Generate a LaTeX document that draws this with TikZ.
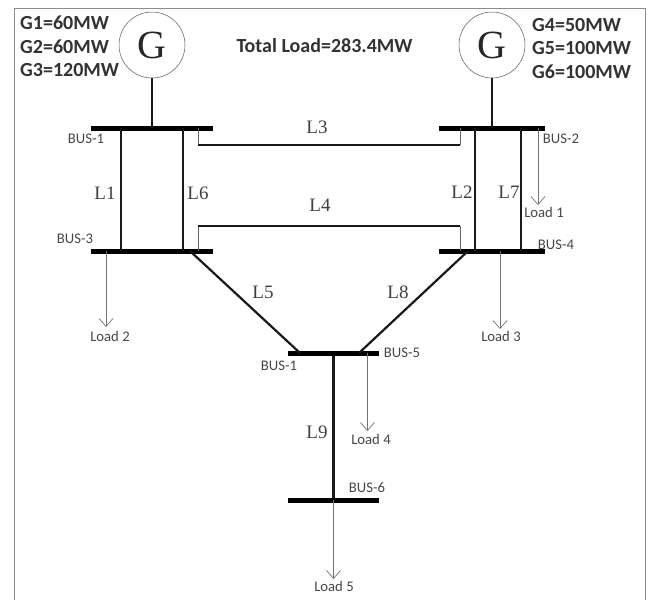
\documentclass[tikz,border=0pt]{standalone}
\usepackage{fontspec}
\setmainfont{Liberation Serif}
\newfontfamily\labelfont{Carlito}
\usetikzlibrary{arrows.meta}
\tikzset{
  x=1pt,y=-1pt,
  busbar/.style={fill=black,inner sep=0pt,minimum height=5pt,draw=none,outer sep=0pt},
  gen/.style={circle,draw=black!65,line width=0.5pt,minimum size=66pt,inner sep=0pt,font=\fontsize{40}{40}\selectfont,text=black!85},
  line/.style={line width=2.2pt,black!90},
  thinline/.style={line width=1.6pt,black!90},
  stub/.style={line width=0.7pt,black!60},
  loadarrow/.style={line width=0.7pt,black!55,-{Straight Barb[length=8pt,width=14pt,line width=0.7pt]}},
  gtext/.style={font=\labelfont\bfseries\fontsize{20}{20}\selectfont,text=black!80,inner sep=0pt},
  bustext/.style={font=\labelfont\fontsize{14.7}{14.7}\selectfont,text=black!72,inner sep=0pt},
  linetext/.style={font=\fontsize{19}{19}\selectfont,text=black!75,inner sep=0pt},
}
\begin{document}
\begin{tikzpicture}
\useasboundingbox (0,0) rectangle (650,600);
\fill[white] (0,0) rectangle (650,600);
\coordinate (fa) at (14,600);
\coordinate (fb) at (14,8);
\coordinate (fc) at (645,8);
\coordinate (fd) at (645,600);
\draw[black!45,line width=0.8pt] (fa) -- (fb) -- (fc) -- (fd);

% generators and buses
\node[gen] (g1) at (152,45) {G};
\node[gen] (g2) at (492,45) {G};
\node[busbar,minimum width=122pt] (b1) at (152,128) {};
\node[busbar,minimum width=106pt] (b2) at (492,128) {};
\node[busbar,minimum width=122pt] (b3) at (152,251) {};
\node[busbar,minimum width=106pt] (b4) at (492,251) {};
\node[busbar,minimum width=91pt] (b5) at (333.5,353) {};
\node[busbar,minimum width=91pt] (b6) at (333.5,500) {};

% tap positions
\coordinate (x1) at (121,0);
\coordinate (x6) at (183,0);
\coordinate (x2) at (475,0);
\coordinate (x7) at (521,0);
\coordinate (xl) at (198,0);
\coordinate (xr) at (460,0);
\coordinate (y3) at (0,145);
\coordinate (y4) at (0,226);
\coordinate (x5a) at (190,0);
\coordinate (x5b) at (300,0);
\coordinate (x8a) at (468,0);
\coordinate (x8b) at (359,0);

\draw[line] (g1) -- (g1 |- b1);
\draw[line] (g2) -- (g2 |- b2);
\draw[line] (b1 -| x1) -- (b3 -| x1);
\draw[line] (b1 -| x6) -- (b3 -| x6);
\draw[line] (b2 -| x2) -- (b4 -| x2);
\draw[line] (b2 -| x7) -- (b4 -| x7);
\draw[line] (b3 -| x5a) -- (b5 -| x5b);
\draw[line] (b4 -| x8a) -- (b5 -| x8b);
\draw[line] (b5) -- (b6);

% L3 and L4 with thin stubs
\draw[stub] (b1 -| xl) -- (y3 -| xl);
\draw[stub] (b2 -| xr) -- (y3 -| xr);
\draw[thinline] (y3 -| xl) -- (y3 -| xr);
\draw[stub] (b3 -| xl) -- (y4 -| xl);
\draw[stub] (b4 -| xr) -- (y4 -| xr);
\draw[thinline] (y4 -| xl) -- (y4 -| xr);

% loads
\node[bustext] (load1) at (544,212) {Load 1};
\node[bustext] (load2) at (110,336) {Load 2};
\node[bustext] (load3) at (501,336) {Load 3};
\node[bustext] (load4) at (371,439) {Load 4};
\node[bustext] (load5) at (334,586) {Load 5};
\coordinate (x1l) at (538,0);
\coordinate (x2l) at (106,0);
\coordinate (x3l) at (500,0);
\coordinate (x4l) at (367.5,0);
\coordinate (x5l) at (333.5,0);
\coordinate (e1) at (538,205);
\coordinate (e2) at (106,327);
\coordinate (e3) at (500,329);
\coordinate (e4) at (367.5,431);
\coordinate (e5) at (333.5,579);
\draw[loadarrow] (b2 -| x1l) -- (e1);
\draw[loadarrow] (b3 -| x2l) -- (e2);
\draw[loadarrow] (b4 -| x3l) -- (e3);
\draw[loadarrow] (b5 -| x4l) -- (e4);
\draw[loadarrow] (b6 -| x5l) -- (e5);

% text
\node[gtext,anchor=west] (t1) at (20,23) {G1=60MW};
\node[gtext,anchor=west] (t2) at (20,47) {G2=60MW};
\node[gtext,anchor=west] (t3) at (20,70) {G3=120MW};
\node[gtext,anchor=west] (t4) at (532,25) {G4=50MW};
\node[gtext,anchor=west] (t5) at (532,48) {G5=100MW};
\node[gtext,anchor=west] (t6) at (532,72) {G6=100MW};
\node[gtext] (tl) at (324.5,46) {Total Load=283.4MW};

\node[bustext] (n1) at (86,139) {BUS-1};
\node[bustext] (n3) at (75,239) {BUS-3};
\node[bustext] (n2) at (561,139) {BUS-2};
\node[bustext] (n4) at (556,245) {BUS-4};
\node[bustext] (n5) at (402,353) {BUS-5};
\node[bustext] (n5b) at (279,366) {BUS-1};
\node[bustext] (n6) at (367,488) {BUS-6};

\node[linetext] (l1) at (105,193) {L1};
\node[linetext] (l6) at (198,193) {L6};
\node[linetext] (l2) at (462,192) {L2};
\node[linetext] (l7) at (509,192) {L7};
\node[linetext] (l3) at (317,127) {L3};
\node[linetext] (l4) at (320,205) {L4};
\node[linetext] (l5) at (263,292) {L5};
\node[linetext] (l8) at (398,292) {L8};
\node[linetext] (l9) at (317,432) {L9};
\end{tikzpicture}
\end{document}
